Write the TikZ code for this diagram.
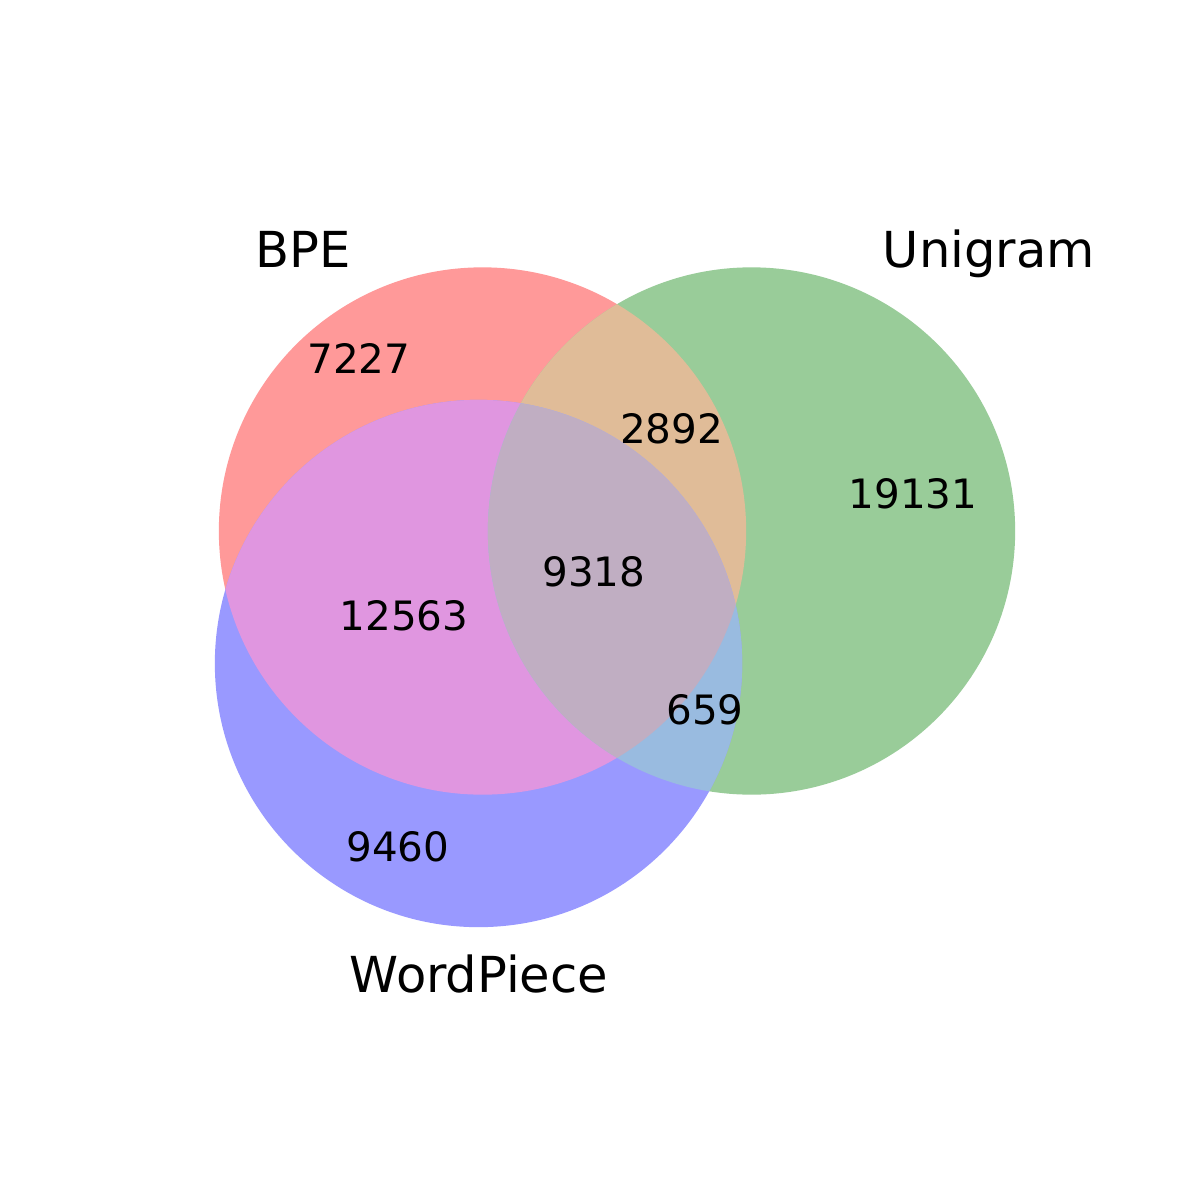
\documentclass[tikz,border=0pt]{standalone}
\usepackage{fontspec}
\setmainfont{DejaVu Sans}
\definecolor{cA}{HTML}{FF9999}
\definecolor{cB}{HTML}{99CC99}
\definecolor{cC}{HTML}{9999FF}
\definecolor{cAB}{HTML}{E0BC98}
\definecolor{cAC}{HTML}{E096E0}
\definecolor{cBC}{HTML}{99BBE0}
\definecolor{cABC}{HTML}{C0AEC2}
\tikzset{
  num/.style={anchor=base, inner sep=0pt, font=\fontsize{11.5}{14}\selectfont},
  setlabel/.style={anchor=base, inner sep=0pt, font=\fontsize{14.1}{17}\selectfont},
}
\begin{document}
\begin{tikzpicture}[x=0.01cm, y=-0.01cm]
\useasboundingbox (0,0) rectangle (1200,1200);
\fill[white] (0,0) rectangle (1200,1200);
\def\circA{(482.5,531) circle[radius=2.635cm]}
\def\circB{(751.5,531) circle[radius=2.635cm]}
\def\circC{(478.5,663.5) circle[radius=2.635cm]}
\fill[cA] \circA;
\fill[cB] \circB;
\fill[cC] \circC;
\begin{scope}
  \clip \circA;
  \fill[cAB] \circB;
  \fill[cAC] \circC;
\end{scope}
\begin{scope}
  \clip \circB;
  \fill[cBC] \circC;
\end{scope}
\begin{scope}
  \clip \circA;
  \clip \circB;
  \fill[cABC] \circC;
\end{scope}
\node[setlabel] (lA) at (303,267) {BPE};
\node[setlabel] (lB) at (989,267) {Unigram};
\node[setlabel] (lC) at (479,992) {WordPiece};
\node[num] (nA) at (359,373) {7227};
\node[num] (nAB) at (671.5,443) {2892};
\node[num] (nB) at (913,508) {19131};
\node[num] (nABC) at (594,586) {9318};
\node[num] (nAC) at (404,630) {12563};
\node[num] (nBC) at (705,724) {659};
\node[num] (nC) at (398,861) {9460};
\end{tikzpicture}
\end{document}
